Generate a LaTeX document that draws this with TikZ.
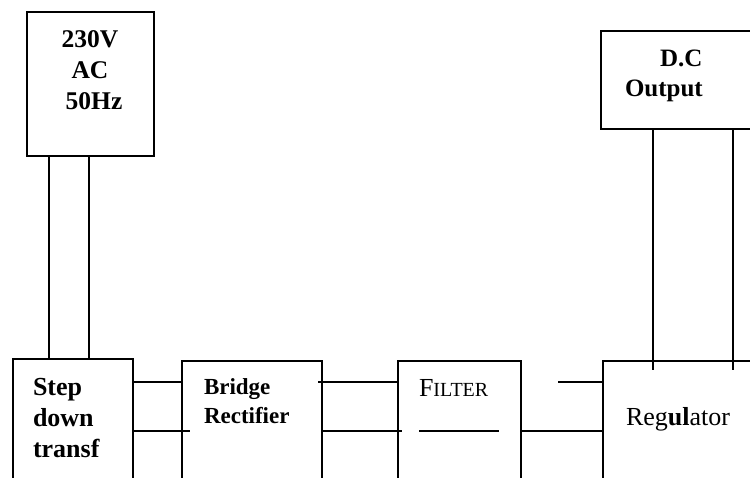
\documentclass[tikz,border=0pt]{standalone}
\usepackage{fontspec}
\setmainfont{Liberation Serif}
\begin{document}
\begin{tikzpicture}[x=1pt,y=-1pt,line width=1.6pt,
  blk/.style={draw,line width=1.6pt,anchor=north west,inner sep=0pt,outer sep=0pt},
  txt/.style={inner sep=0pt,outer sep=0pt,text=black}]
\useasboundingbox (0,0) rectangle (750,477);
\clip (0,0) rectangle (750,477);
% blocks
\node[blk,minimum width=127,minimum height=144] (ac) at (27,12) {};
\node[blk,minimum width=120,minimum height=160] (step) at (13,359) {};
\node[blk,minimum width=140,minimum height=160] (bridge) at (182,361) {};
\node[blk,minimum width=123,minimum height=160] (filter) at (398,361) {};
\node[blk,minimum width=200,minimum height=160] (reg) at (603,361) {};
\node[blk,minimum width=200,minimum height=98] (dc) at (601,31) {};
% texts (base anchor = baseline of last line)
\node[txt,font=\bfseries\fontsize{25.5}{31}\selectfont,align=center,anchor=base] (actxt) at (90,109) {230V\\AC\\\hspace{8pt}50Hz};
\node[txt,font=\bfseries\fontsize{26}{31}\selectfont,align=left,anchor=base west] (steptxt) at (33,457) {Step\\down\\transf};
\node[txt,font=\bfseries\fontsize{23}{29}\selectfont,align=left,anchor=base west] (bridgetxt) at (204,423) {Bridge\\Rectifier};
\node[txt,font=\fontsize{26}{31}\selectfont,anchor=base west] (filtertxt) at (419,396) {F{\fontsize{20}{24}\selectfont ILTER}};
\node[txt,font=\fontsize{26}{31}\selectfont,anchor=base west] (regtxt) at (626,425) {Reg\textbf{ul}ator};
\node[txt,font=\bfseries\fontsize{25}{30}\selectfont,align=left,anchor=base west] (dctxt) at (625,96) {\hspace{35pt}D.C\\Output};
% connectors
\draw (ac.south -| 49,0) -- (step.north -| 49,0);
\draw (ac.south -| 89,0) -- (step.north -| 89,0);
\draw (step.east |- 0,382) -- (bridge.west |- 0,382);
\draw (step.east |- 0,431) -- (bridge.west |- 0,431) -- ++(8,0);
\draw (bridge.east |- 0,382) ++(-4,0) -- (filter.west |- 0,382);
\draw (bridge.east |- 0,431) -- (filter.west |- 0,431) -- ++(4,0);
\draw (filter.west |- 0,431) ++(21,0) -- ++(80,0);
\draw (filter.east |- 0,431) -- (reg.west |- 0,431);
\coordinate (free) at (558,382);
\draw (free) -- (reg.west |- free);
\draw (dc.south -| 653,0) -- (reg.north -| 653,0) -- ++(0,9);
\draw (dc.south -| 733,0) -- (reg.north -| 733,0) -- ++(0,9);
\end{tikzpicture}
\end{document}
